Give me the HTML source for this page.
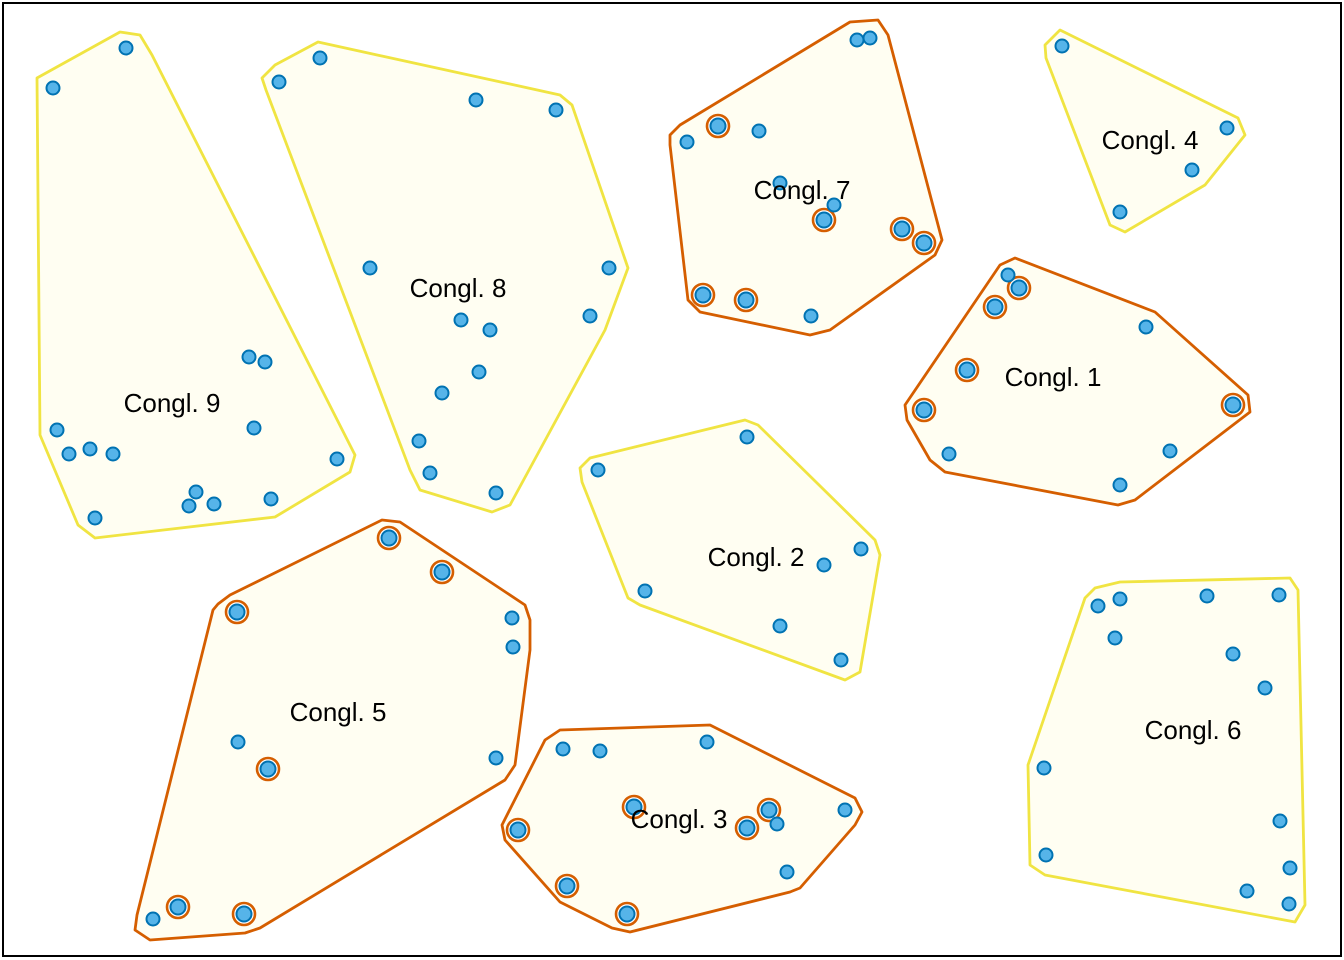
<!DOCTYPE html>
<html><head><meta charset="utf-8"><style>
html,body{margin:0;padding:0;background:#fff;width:1344px;height:960px;overflow:hidden}
svg{display:block}
.y{fill:#FFFEF2;stroke:#F0E442;stroke-width:2.8;stroke-linejoin:round}
.o{fill:#FFFEF2;stroke:#D55E00;stroke-width:2.8;stroke-linejoin:round}
.d{fill:#56B4E9;stroke:#0072B2;stroke-width:2}
.r{fill:#fff;stroke:#D55E00;stroke-width:2.6}
text{font-family:"Liberation Sans",sans-serif;font-size:26px;fill:#000;text-anchor:middle}
</style></head><body>
<svg width="1344" height="960" viewBox="0 0 1344 960">
<rect x="3" y="3" width="1338" height="953" fill="#fff" stroke="#000" stroke-width="2"/>
<polygon class="y" points="37,78 120,32 140,35 152,55 355,455 350,472 275,517 95,538 78,525 40,435"/>
<polygon class="y" points="262,78 275,65 318,42 560,95 572,105 628,268 605,330 510,505 492,512 420,490 410,470 266,90"/>
<polygon class="o" points="670,135 680,125 850,22 878,20 888,35 942,240 935,255 830,330 810,335 700,312 688,300 670,145"/>
<polygon class="y" points="1045,45 1060,30 1238,118 1245,135 1205,185 1125,232 1110,225 1046,58"/>
<polygon class="o" points="905,405 1000,265 1015,258 1155,312 1248,395 1250,412 1135,500 1118,505 945,472 930,460 907,420"/>
<polygon class="y" points="580,468 590,458 745,420 758,425 875,540 880,555 860,672 845,680 640,605 628,598 582,482"/>
<polygon class="o" points="218,604 230,595 382,520 400,522 525,605 530,620 530,650 515,765 505,780 260,928 245,933 150,940 135,930 137,915 213,610"/>
<polygon class="o" points="502,825 545,740 560,730 710,725 855,798 862,812 855,825 800,888 790,892 630,932 612,928 560,902 505,840"/>
<polygon class="y" points="1028,765 1085,598 1095,588 1120,582 1290,578 1298,590 1305,905 1295,922 1045,875 1030,865"/>
<g>
<circle class="r" cx="718" cy="126" r="11"/><circle class="r" cx="824" cy="220" r="11"/><circle class="r" cx="902" cy="229" r="11"/><circle class="r" cx="924" cy="243" r="11"/><circle class="r" cx="703" cy="295" r="11"/><circle class="r" cx="746" cy="300" r="11"/>
<circle class="r" cx="1019" cy="288" r="11"/><circle class="r" cx="995" cy="307" r="11"/><circle class="r" cx="967" cy="370" r="11"/><circle class="r" cx="924" cy="410" r="11"/><circle class="r" cx="1233" cy="405" r="11"/>
<circle class="r" cx="389" cy="538" r="11"/><circle class="r" cx="442" cy="572" r="11"/><circle class="r" cx="237" cy="612" r="11"/><circle class="r" cx="268" cy="769" r="11"/><circle class="r" cx="178" cy="907" r="11"/><circle class="r" cx="244" cy="914" r="11"/>
<circle class="r" cx="518" cy="830" r="11"/><circle class="r" cx="634" cy="807" r="11"/><circle class="r" cx="769" cy="810" r="11"/><circle class="r" cx="747" cy="828" r="11"/><circle class="r" cx="567" cy="886" r="11"/><circle class="r" cx="627" cy="914" r="11"/>
</g>
<g class="d">
<circle cx="53" cy="88" r="6.5"/><circle cx="126" cy="48" r="6.5"/><circle cx="249" cy="357" r="6.5"/><circle cx="265" cy="362" r="6.5"/><circle cx="57" cy="430" r="6.5"/><circle cx="69" cy="454" r="6.5"/><circle cx="90" cy="449" r="6.5"/><circle cx="113" cy="454" r="6.5"/><circle cx="254" cy="428" r="6.5"/><circle cx="337" cy="459" r="6.5"/><circle cx="196" cy="492" r="6.5"/><circle cx="189" cy="506" r="6.5"/><circle cx="214" cy="504" r="6.5"/><circle cx="271" cy="499" r="6.5"/><circle cx="95" cy="518" r="6.5"/>
<circle cx="279" cy="82" r="6.5"/><circle cx="320" cy="58" r="6.5"/><circle cx="476" cy="100" r="6.5"/><circle cx="556" cy="110" r="6.5"/><circle cx="370" cy="268" r="6.5"/><circle cx="609" cy="268" r="6.5"/><circle cx="461" cy="320" r="6.5"/><circle cx="490" cy="330" r="6.5"/><circle cx="590" cy="316" r="6.5"/><circle cx="479" cy="372" r="6.5"/><circle cx="442" cy="393" r="6.5"/><circle cx="419" cy="441" r="6.5"/><circle cx="430" cy="473" r="6.5"/><circle cx="496" cy="493" r="6.5"/>
<circle cx="857" cy="40" r="6.5"/><circle cx="870" cy="38" r="6.5"/><circle cx="687" cy="142" r="6.5"/><circle cx="759" cy="131" r="6.5"/><circle cx="780" cy="183" r="6.5"/><circle cx="834" cy="205" r="6.5"/><circle cx="811" cy="316" r="6.5"/>
<circle cx="1062" cy="46" r="6.5"/><circle cx="1227" cy="128" r="6.5"/><circle cx="1192" cy="170" r="6.5"/><circle cx="1120" cy="212" r="6.5"/>
<circle cx="1008" cy="275" r="6.5"/><circle cx="1146" cy="327" r="6.5"/><circle cx="949" cy="454" r="6.5"/><circle cx="1170" cy="451" r="6.5"/><circle cx="1120" cy="485" r="6.5"/>
<circle cx="747" cy="437" r="6.5"/><circle cx="598" cy="470" r="6.5"/><circle cx="861" cy="549" r="6.5"/><circle cx="824" cy="565" r="6.5"/><circle cx="645" cy="591" r="6.5"/><circle cx="780" cy="626" r="6.5"/><circle cx="841" cy="660" r="6.5"/>
<circle cx="512" cy="618" r="6.5"/><circle cx="513" cy="647" r="6.5"/><circle cx="238" cy="742" r="6.5"/><circle cx="496" cy="758" r="6.5"/><circle cx="153" cy="919" r="6.5"/>
<circle cx="563" cy="749" r="6.5"/><circle cx="600" cy="751" r="6.5"/><circle cx="707" cy="742" r="6.5"/><circle cx="845" cy="810" r="6.5"/><circle cx="777" cy="824" r="6.5"/><circle cx="787" cy="872" r="6.5"/>
<circle cx="1098" cy="606" r="6.5"/><circle cx="1120" cy="599" r="6.5"/><circle cx="1207" cy="596" r="6.5"/><circle cx="1279" cy="595" r="6.5"/><circle cx="1115" cy="638" r="6.5"/><circle cx="1233" cy="654" r="6.5"/><circle cx="1265" cy="688" r="6.5"/><circle cx="1044" cy="768" r="6.5"/><circle cx="1280" cy="821" r="6.5"/><circle cx="1046" cy="855" r="6.5"/><circle cx="1290" cy="868" r="6.5"/><circle cx="1247" cy="891" r="6.5"/><circle cx="1289" cy="904" r="6.5"/>
<circle cx="718" cy="126" r="7.5"/><circle cx="824" cy="220" r="7.5"/><circle cx="902" cy="229" r="7.5"/><circle cx="924" cy="243" r="7.5"/><circle cx="703" cy="295" r="7.5"/><circle cx="746" cy="300" r="7.5"/>
<circle cx="1019" cy="288" r="7.5"/><circle cx="995" cy="307" r="7.5"/><circle cx="967" cy="370" r="7.5"/><circle cx="924" cy="410" r="7.5"/><circle cx="1233" cy="405" r="7.5"/>
<circle cx="389" cy="538" r="7.5"/><circle cx="442" cy="572" r="7.5"/><circle cx="237" cy="612" r="7.5"/><circle cx="268" cy="769" r="7.5"/><circle cx="178" cy="907" r="7.5"/><circle cx="244" cy="914" r="7.5"/>
<circle cx="518" cy="830" r="7.5"/><circle cx="634" cy="807" r="7.5"/><circle cx="769" cy="810" r="7.5"/><circle cx="747" cy="828" r="7.5"/><circle cx="567" cy="886" r="7.5"/><circle cx="627" cy="914" r="7.5"/>
</g>
<text x="802" y="199">Congl. 7</text>
<text x="1150" y="149">Congl. 4</text>
<text x="458" y="297">Congl. 8</text>
<text x="172" y="412">Congl. 9</text>
<text x="1053" y="386">Congl. 1</text>
<text x="756" y="566">Congl. 2</text>
<text x="338" y="721">Congl. 5</text>
<text x="679" y="828">Congl. 3</text>
<text x="1193" y="739">Congl. 6</text>
</svg>
</body></html>
